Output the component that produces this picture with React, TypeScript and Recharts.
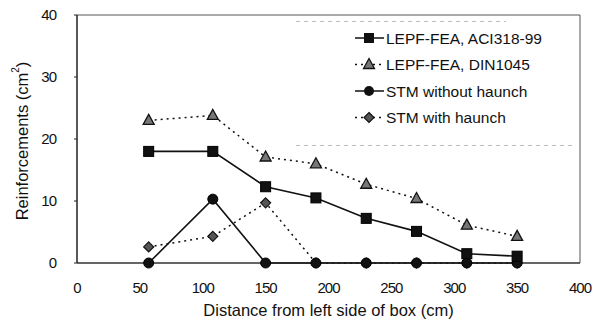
import React from "react";
import { LineChart, Line, XAxis, YAxis, ReferenceArea } from "recharts";

const distances = [57, 108, 150, 190, 230, 270, 310, 350];
const aci318 = [18, 18, 12.3, 10.5, 7.2, 5.1, 1.5, 1.1];
const din1045 = [23, 23.8, 17.1, 16, 12.7, 10.4, 6.1, 4.3];
const stmWithout = [0, 10.3, 0, 0, 0, 0, 0, 0];
const stmWith = [2.6, 4.3, 9.7, 0, 0, 0, 0, 0];
const xTicks = [0, 50, 100, 150, 200, 250, 300, 350, 400];
const yTicks = [0, 10, 20, 30, 40];
const seriesNames = ["LEPF-FEA, ACI318-99", "LEPF-FEA, DIN1045", "STM without haunch", "STM with haunch"];

const data = distances.map((d, i) => ({
  x: d,
  aci: aci318[i],
  din: din1045[i],
  without: stmWithout[i],
  withH: stmWith[i],
}));

const FONT = "'Liberation Sans', Arial, sans-serif";

const Square = (p: any) => {
  const { cx, cy, key } = p;
  if (cx == null || cy == null) return <g key={key} />;
  return <rect key={key} x={cx - 5} y={cy - 5} width={10} height={10} fill="#111" stroke="#000" />;
};
const Tri = (p: any) => {
  const { cx, cy, key } = p;
  if (cx == null || cy == null) return <g key={key} />;
  return (
    <polygon key={key} points={`${cx},${cy - 6} ${cx + 5.5},${cy + 4} ${cx - 5.5},${cy + 4}`} fill="#777" stroke="#111" strokeWidth={1.3} />
  );
};
const Circ = (p: any) => {
  const { cx, cy, key } = p;
  if (cx == null || cy == null) return <g key={key} />;
  return <circle key={key} cx={cx} cy={cy} r={5} fill="#111" stroke="#000" />;
};
const Diam = (p: any) => {
  const { cx, cy, key } = p;
  if (cx == null || cy == null) return <g key={key} />;
  return (
    <polygon key={key} points={`${cx},${cy - 5} ${cx + 5},${cy} ${cx},${cy + 5} ${cx - 5},${cy}`} fill="#555" stroke="#111" strokeWidth={1.2} />
  );
};

const legendMarkers = [
  (cx: number, cy: number) => <rect x={cx - 5} y={cy - 5} width={10} height={10} fill="#111" />,
  (cx: number, cy: number) => (
    <polygon points={`${cx},${cy - 6} ${cx + 5.5},${cy + 4} ${cx - 5.5},${cy + 4}`} fill="#777" stroke="#111" strokeWidth={1.3} />
  ),
  (cx: number, cy: number) => <circle cx={cx} cy={cy} r={5} fill="#111" />,
  (cx: number, cy: number) => (
    <polygon points={`${cx},${cy - 5} ${cx + 5},${cy} ${cx},${cy + 5} ${cx - 5},${cy}`} fill="#555" stroke="#111" strokeWidth={1.2} />
  ),
];
const legendDashed = [false, true, false, true];

const LegendBox = () => (
  <svg width={283} height={126} style={{ display: "block" }}>
    <rect x={0} y={0} width={283} height={126} fill="#fff" />
    <line x1={0} y1={0.5} x2={210} y2={0.5} stroke="#bbb" strokeDasharray="4 4" />
    <line x1={0} y1={124.5} x2={280} y2={124.5} stroke="#bbb" strokeDasharray="4 4" />
    {seriesNames.map((n, i) => {
      const cy = 17 + i * 26.5;
      return (
        <g key={n}>
          <line x1={59} y1={cy} x2={88} y2={cy} stroke="#111" strokeWidth={1.5} strokeDasharray={legendDashed[i] ? "2 4" : undefined} />
          {legendMarkers[i](73, cy)}
          <text x={90} y={cy} dominantBaseline="central" fontFamily={FONT} fontSize={15.5} fill="#111">
            {n}
          </text>
        </g>
      );
    })}
  </svg>
);

const YLabel = (props: any) => {
  const vb = props.viewBox || { x: 0, y: 15, width: 77, height: 248 };
  const cx = vb.x + 22;
  const cy = vb.y + vb.height / 2 + 2;
  return (
    <text
      x={cx}
      y={cy}
      transform={`rotate(-90, ${cx}, ${cy})`}
      textAnchor="middle"
      dominantBaseline="central"
      fontFamily={FONT}
      fontSize={16.5}
      fill="#111"
    >
      Reinforcements (cm
      <tspan dy={-7} fontSize={10}>2</tspan>
      <tspan dy={7}>)</tspan>
    </text>
  );
};

const XLabel = (props: any) => {
  const vb = props.viewBox || { x: 77, y: 263, width: 503, height: 62 };
  return (
    <text
      x={vb.x + vb.width / 2}
      y={vb.y + 47}
      textAnchor="middle"
      dominantBaseline="central"
      fontFamily={FONT}
      fontSize={16.5}
      fill="#111"
    >
      Distance from left side of box (cm)
    </text>
  );
};

export default function App() {
  const tickStyle = { fontFamily: FONT, fontSize: 15, fill: "#111", letterSpacing: -1 };
  return (
    <div style={{ position: "absolute", left: 0, top: 0, width: 601, height: 325, background: "#fff" }}>
      <LineChart width={601} height={325} data={data} margin={{ top: 15, right: 21, bottom: 0, left: 0 }}>
        <ReferenceArea x1={0} x2={400} y1={0} y2={40} fill="none" stroke="#555" strokeWidth={1} ifOverflow="visible" />
        <XAxis
          type="number"
          dataKey="x"
          domain={[0, 400]}
          ticks={xTicks}
          tickLine={false}
          tickMargin={13}
          height={62}
          axisLine={{ stroke: "#222", strokeWidth: 1.2 }}
          tick={tickStyle}
          label={{ content: XLabel }}
        />
        <YAxis
          type="number"
          domain={[0, 40]}
          ticks={yTicks}
          width={77}
          tickSize={3}
          tickMargin={18}
          axisLine={{ stroke: "#222", strokeWidth: 1.2 }}
          tickLine={{ stroke: "#222" }}
          tick={tickStyle}
          label={{ content: YLabel }}
        />
        <Line dataKey="withH" stroke="#111" strokeWidth={1.5} strokeDasharray="2 4" dot={Diam} isAnimationActive={false} />
        <Line dataKey="din" stroke="#111" strokeWidth={1.5} strokeDasharray="2 4" dot={Tri} isAnimationActive={false} />
        <Line dataKey="without" stroke="#111" strokeWidth={1.6} dot={Circ} isAnimationActive={false} />
        <Line dataKey="aci" stroke="#111" strokeWidth={1.6} dot={Square} isAnimationActive={false} />
      </LineChart>
      <div style={{ position: "absolute", left: 296, top: 21, width: 283, height: 126 }}>
        <LegendBox />
      </div>
    </div>
  );
}
